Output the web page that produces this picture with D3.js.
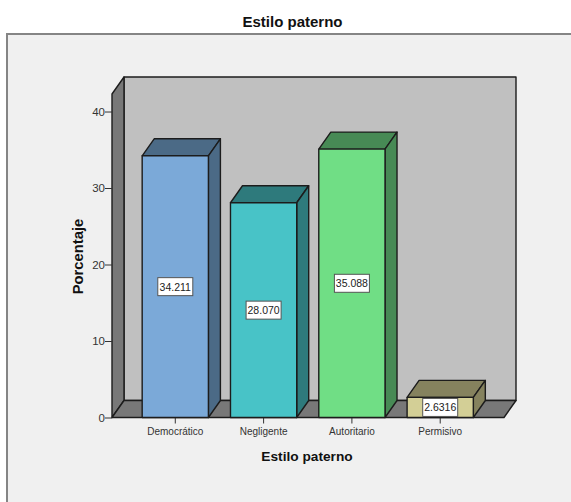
<!DOCTYPE html>
<html>
<head>
<meta charset="utf-8">
<script src="https://cdn.jsdelivr.net/npm/d3@7/dist/d3.min.js"></script>
<style>
html, body { margin: 0; padding: 0; background: #fff; }
svg { display: block; font-family: "Liberation Sans", Arial, sans-serif; }
</style>
</head>
<body>
<svg id="chart" width="571" height="502"></svg>
<script>
const categories = ["Democrático", "Negligente", "Autoritario", "Permisivo"];
const percentages = [34.211, 28.070, 35.088, 2.6316];
const valueLabels = ["34.211", "28.070", "35.088", "2.6316"];
const frontColors = ["#7ba9d8", "#48c3c7", "#70de85", "#d3cf96"];
const shadeColors = ["#4b6a86", "#2e7a7c", "#478a55", "#85825e"];
const yTicks = [0, 10, 20, 30, 40];
const chartTitle = "Estilo paterno";
const xTitle = "Estilo paterno";
const yTitle = "Porcentaje";

const svg = d3.select("#chart");
const ink = "#1c1c1c";

// Oblique projection offset of the 3-D box
const depthX = 12, depthY = -17;

const x = d3.scaleBand().domain(categories).range([120.1, 495.4]).padding(0.25);
const y = d3.scaleLinear().domain([0, 42.29]).range([417.5, 94]);

const frameLeft = 112, frameRight = 504;
const floorY = y(0), ceilY = y.range()[1];

// Chart frame
svg.append("rect").attr("x", 7).attr("y", 34).attr("width", 570).attr("height", 475)
  .attr("fill", "#f0f0f0").attr("stroke", "#858585").attr("stroke-width", 2);

svg.append("text").attr("x", 292.5).attr("y", 26.5).attr("text-anchor", "middle")
  .attr("font-size", 15).attr("font-weight", "bold").attr("fill", "#111").text(chartTitle);

const poly = (pts, fill, sw = 1.4) => svg.append("polygon")
  .attr("points", pts.map(p => p.join(",")).join(" "))
  .attr("fill", fill).attr("stroke", ink).attr("stroke-width", sw).attr("stroke-linejoin", "round");

// Back wall, side wall and floor
poly([[frameLeft + depthX, ceilY + depthY], [frameRight + depthX, ceilY + depthY],
      [frameRight + depthX, floorY + depthY], [frameLeft + depthX, floorY + depthY]], "#c0c0c0");
poly([[frameLeft, ceilY], [frameLeft + depthX, ceilY + depthY],
      [frameLeft + depthX, floorY + depthY], [frameLeft, floorY]], "#787878");
poly([[frameLeft, floorY], [frameLeft + depthX, floorY + depthY],
      [frameRight + depthX, floorY + depthY], [frameRight, floorY]], "#787878");

// Axes
const yAxis = d3.axisLeft(y).tickValues(yTicks).tickSize(7).tickPadding(0).tickFormat(d3.format("d"));
const xAxis = d3.axisBottom(x).tickSize(6).tickPadding(4);

const gy = svg.append("g").attr("transform", `translate(${frameLeft},0)`).call(yAxis);
const gx = svg.append("g").attr("transform", `translate(0,${floorY})`).call(xAxis);
[gy, gx].forEach(g => {
  g.select(".domain").remove();
  g.selectAll(".tick line").attr("stroke", "#333").attr("stroke-width", 1);
  g.selectAll(".tick text").attr("fill", "#333").attr("font-family", "'Liberation Sans', Arial, sans-serif");
});
gy.selectAll(".tick text").attr("font-size", 11.5);
gx.selectAll(".tick text").attr("font-size", 10);

// Bars drawn as three-faced boxes
const bars = svg.append("g").selectAll("g").data(categories).join("g");
bars.each(function (c, i) {
  const g = d3.select(this);
  const x0 = x(c), x1 = x0 + x.bandwidth(), yv = y(percentages[i]);
  const face = (pts, fill) => g.append("polygon")
    .attr("points", pts.map(p => p.join(",")).join(" "))
    .attr("fill", fill).attr("stroke", ink).attr("stroke-width", 1.4).attr("stroke-linejoin", "round");
  face([[x0, yv], [x0 + depthX, yv + depthY], [x1 + depthX, yv + depthY], [x1, yv]], shadeColors[i]);
  face([[x1, yv], [x1 + depthX, yv + depthY], [x1 + depthX, floorY + depthY], [x1, floorY]], shadeColors[i]);
  face([[x0, yv], [x1, yv], [x1, floorY], [x0, floorY]], frontColors[i]);

  const cx = (x0 + x1) / 2, cy = (yv + floorY) / 2;
  g.append("rect").attr("x", cx - 17.5).attr("y", cy - 9).attr("width", 35).attr("height", 18)
    .attr("fill", "#fff").attr("stroke", "#555").attr("stroke-width", 1);
  g.append("text").attr("x", cx).attr("y", cy + 4).attr("text-anchor", "middle")
    .attr("font-size", 10.5).attr("fill", "#222").text(valueLabels[i]);
});

// Axis titles
svg.append("text").attr("x", 307).attr("y", 461).attr("text-anchor", "middle")
  .attr("font-size", 13.7).attr("font-weight", "bold").attr("fill", "#111").text(xTitle);
svg.append("text").attr("transform", "translate(83,256.5) rotate(-90)").attr("text-anchor", "middle")
  .attr("font-size", 14.8).attr("font-weight", "bold").attr("fill", "#111").text(yTitle);
</script>
</body>
</html>
